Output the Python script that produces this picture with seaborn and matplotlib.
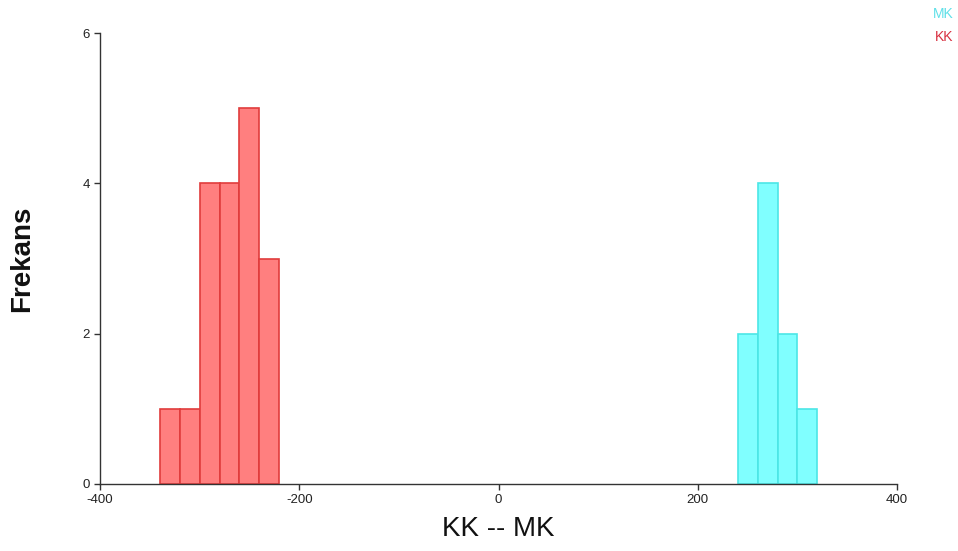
import numpy as np
import pandas as pd
import matplotlib
matplotlib.use("Agg")
import matplotlib.pyplot as plt
import seaborn as sns

# bin edges and counts
kk_edges = [-340, -320, -300, -280, -260, -240, -220]
kk_counts = [1, 1, 4, 4, 5, 3]
mk_edges = [240, 260, 280, 300, 320]
mk_counts = [2, 4, 2, 1]

x_ticks = [-400, -200, 0, 200, 400]
y_ticks = [0, 2, 4, 6]

sns.set_style("white")
plt.rcParams['font.family'] = ['Liberation Sans', 'DejaVu Sans']
plt.rcParams['axes.unicode_minus'] = False

fig = plt.figure(figsize=(9.58, 5.51), dpi=100)
ax = fig.add_axes([0.1044, 0.1216, 0.832, 0.8184])

kk_mid = [(a + b) / 2 for a, b in zip(kk_edges[:-1], kk_edges[1:])]
mk_mid = [(a + b) / 2 for a, b in zip(mk_edges[:-1], mk_edges[1:])]

sns.histplot(x=kk_mid, weights=kk_counts, bins=kk_edges, ax=ax,
             color="#ff7f7f", edgecolor="#e03c3c", linewidth=1.2, alpha=1)
sns.histplot(x=mk_mid, weights=mk_counts, bins=mk_edges, ax=ax,
             color="#80ffff", edgecolor="#4ce6e6", linewidth=1.2, alpha=1)

ax.set_xlim(-400, 400)
ax.set_ylim(0, 6)
ax.set_xticks(x_ticks)
ax.set_yticks(y_ticks)
ax.tick_params(axis="both", labelsize=9.5, length=4, width=1, color="#333333",
               direction="out", left=True, bottom=True, labelcolor="#222222")
for s in ["top", "right"]:
    ax.spines[s].set_visible(False)
for s in ["left", "bottom"]:
    ax.spines[s].set_color("#333333")
    ax.spines[s].set_linewidth(1)

ax.set_xlabel("KK -- MK", fontsize=20, labelpad=7, color="#111111")
ax.set_ylabel("Frekans", fontsize=20, fontweight="bold", labelpad=34, color="#111111")

fig.text(0.985, 0.974, "MK", color="#5ee0e8", fontsize=10, ha="center", va="center")
fig.text(0.985, 0.932, "KK", color="#d83040", fontsize=10, ha="center", va="center")

fig.savefig("out.png", dpi=100)
